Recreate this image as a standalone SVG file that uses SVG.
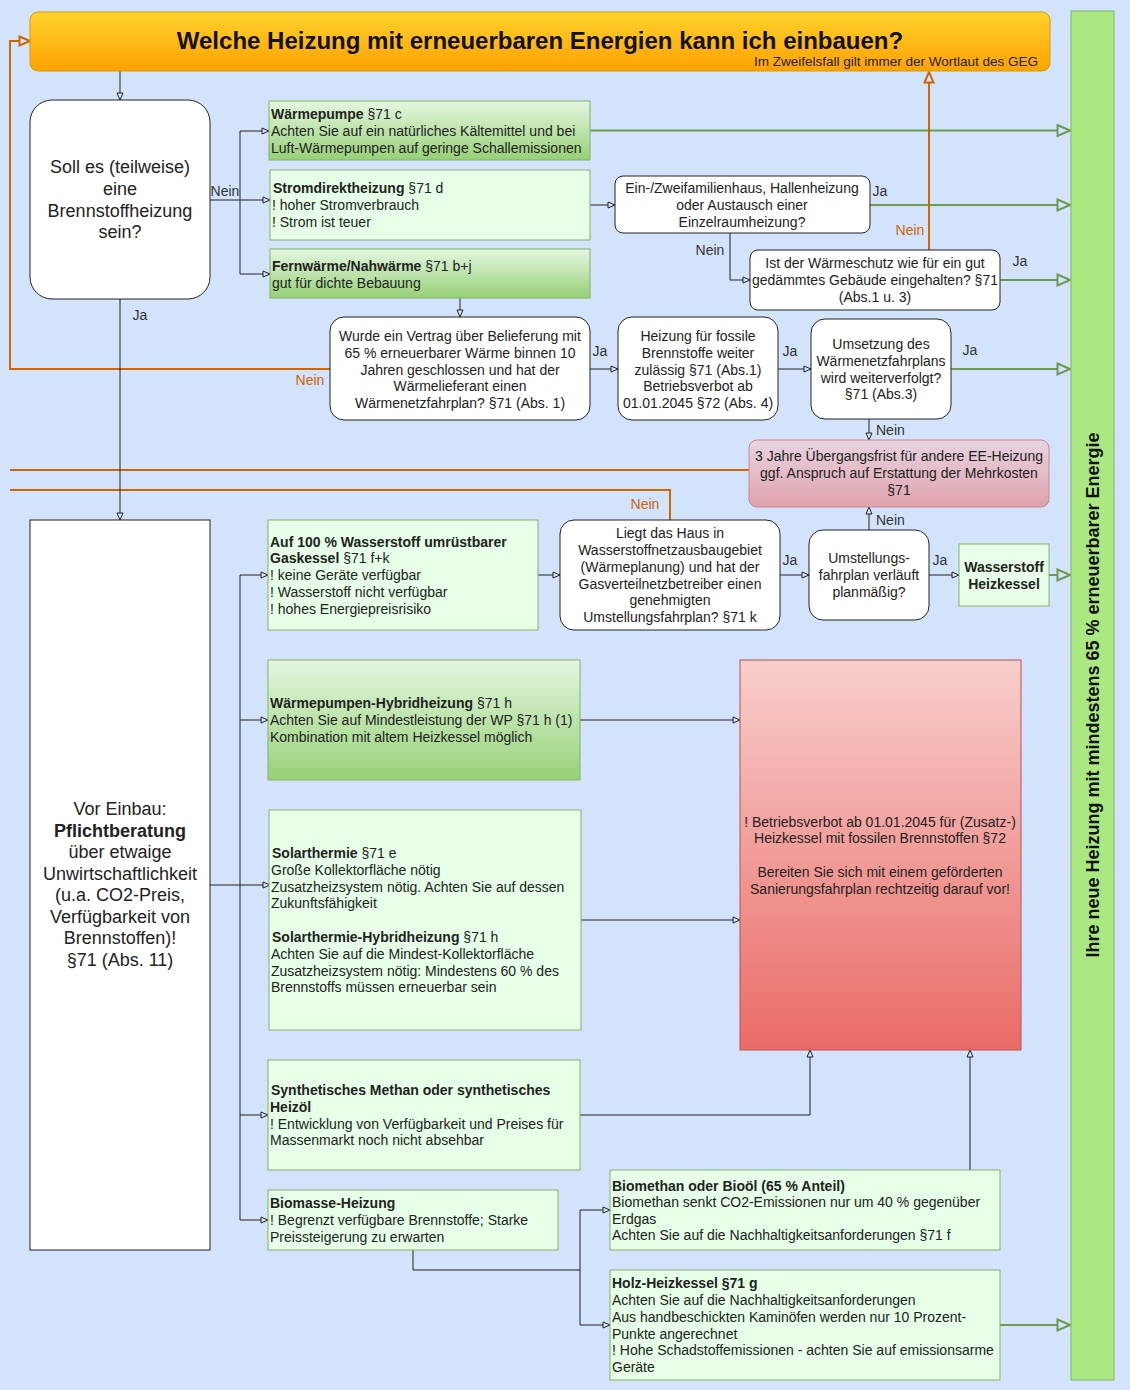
<svg xmlns="http://www.w3.org/2000/svg" width="1130" height="1390" viewBox="0 0 1130 1390">
<defs>
<linearGradient id="gTitle" x1="0" y1="0" x2="0" y2="1"><stop offset="0" stop-color="#ffd22e"/><stop offset="1" stop-color="#ffa200"/></linearGradient>
<linearGradient id="gGreen" x1="0" y1="0" x2="0" y2="1"><stop offset="0" stop-color="#e4f7e0"/><stop offset="1" stop-color="#97d077"/></linearGradient>
<linearGradient id="gPink" x1="0" y1="0" x2="0" y2="1"><stop offset="0" stop-color="#e8d4e0"/><stop offset="1" stop-color="#dfa2ac"/></linearGradient>
<linearGradient id="gRed" x1="0" y1="0" x2="0" y2="1"><stop offset="0" stop-color="#f8cecc"/><stop offset="1" stop-color="#ea6b66"/></linearGradient>
<marker id="ab" markerWidth="10" markerHeight="10" refX="8" refY="4" orient="auto" markerUnits="userSpaceOnUse"><path d="M1,1 L8,4 L1,7 Z" fill="#d4e3fc" stroke="#222" stroke-width="1"/></marker>
<marker id="ag" markerWidth="16" markerHeight="16" refX="14" refY="7" orient="auto" markerUnits="userSpaceOnUse"><path d="M1.5,1.5 L14,7 L1.5,12.5 Z" fill="#d4e3fc" stroke="#6d9a50" stroke-width="2"/></marker>
<marker id="ao" markerWidth="14" markerHeight="14" refX="12" refY="6" orient="auto" markerUnits="userSpaceOnUse"><path d="M1.5,1.5 L12,6 L1.5,10.5 Z" fill="#d4e3fc" stroke="#cc6600" stroke-width="2"/></marker>
</defs>
<style>
text{font-family:"Liberation Sans",Arial,sans-serif;fill:#222;}
.t13{font-size:14px;}
.t17{font-size:18px;}
.c{text-anchor:middle;}
.b{font-weight:bold;}
.lbl{font-size:14px;fill:#333;}
.olbl{font-size:14px;fill:#cc6600;}
.dec{fill:#fff;stroke:#222;stroke-width:1;}
.lg{fill:#e6ffe6;stroke:#82b366;stroke-width:1;}
.gg{fill:url(#gGreen);stroke:#82b366;stroke-width:1;}
.k{fill:none;stroke:#222;stroke-width:1;}
.ka{fill:none;stroke:#222;stroke-width:1;marker-end:url(#ab);}
.ga{fill:none;stroke:#6d9a50;stroke-width:2;marker-end:url(#ag);}
.o{fill:none;stroke:#cc6600;stroke-width:2;}
.oa{fill:none;stroke:#cc6600;stroke-width:2;marker-end:url(#ao);}
</style>
<rect x="0" y="0" width="1130" height="1390" fill="#d4e3fc"/>

<g id="connectors">
<path class="ka" d="M120,71 V100"/>
<path class="ka" d="M210,200 H240 V131 H269"/>
<path class="ka" d="M240,200 H270"/>
<path class="ka" d="M240,200 V274 H270"/>
<path class="ga" d="M590,130.5 H1070"/>
<path class="ka" d="M590,205 H615"/>
<path class="ga" d="M870,205 H1070"/>
<path class="ka" d="M730,233 V280 H750"/>
<path class="ga" d="M1000,280 H1070"/>
<path class="oa" d="M929,250 V72"/>
<path class="ka" d="M460,298 V317"/>
<path class="ka" d="M590,369 H618"/>
<path class="ka" d="M778,369 H811"/>
<path class="ga" d="M951,369 H1070"/>
<path class="ka" d="M869,419 V440"/>
<path class="oa" d="M330,369 H10 V41 H30"/>
<path class="o" d="M749,470 H10"/>
<path class="o" d="M670,520 V490 H10"/>
<path class="ka" d="M120,299 V520"/>
<path class="ka" d="M210,885 H270"/>
<path class="k" d="M240,575 V1220"/>
<path class="ka" d="M240,575 H268"/>
<path class="ka" d="M240,720 H268"/>
<path class="ka" d="M240,1115 H268"/>
<path class="ka" d="M240,1220 H268"/>
<path class="ka" d="M538,575 H560"/>
<path class="ka" d="M780,575 H809"/>
<path class="ka" d="M929,575 H959"/>
<path class="ga" d="M1049,575 H1070"/>
<path class="ka" d="M869,530 V507"/>
<path class="ka" d="M580,720 H740"/>
<path class="ka" d="M581,920 H740"/>
<path class="ka" d="M580,1115 H810 V1050"/>
<path class="k" d="M413,1250 V1270 H580"/>
<path class="k" d="M580,1210 V1325"/>
<path class="ka" d="M580,1210 H610"/>
<path class="ka" d="M580,1325 H610"/>
<path class="ka" d="M970,1170 V1050"/>
<path class="ga" d="M1000,1325 H1070"/>
<text class="lbl c" x="225" y="196">Nein</text>
<text class="lbl c" x="140" y="320">Ja</text>
<text class="lbl c" x="880" y="196">Ja</text>
<text class="lbl c" x="710" y="255">Nein</text>
<text class="olbl c" x="910" y="235">Nein</text>
<text class="lbl c" x="1020" y="266">Ja</text>
<text class="lbl c" x="600" y="356">Ja</text>
<text class="lbl c" x="790" y="356">Ja</text>
<text class="lbl c" x="970" y="355">Ja</text>
<text class="lbl" x="876" y="435">Nein</text>
<text class="olbl c" x="310" y="385">Nein</text>
<text class="olbl c" x="645" y="509">Nein</text>
<text class="lbl c" x="790" y="565">Ja</text>
<text class="lbl c" x="940" y="565">Ja</text>
<text class="lbl" x="876" y="525">Nein</text>
</g>

<g id="title">
<rect x="30" y="12" width="1020" height="59" rx="8" fill="url(#gTitle)" stroke="#d79b00"/>
<text class="c b" x="540" y="49" style="font-size:24px;fill:#111">Welche Heizung mit erneuerbaren Energien kann ich einbauen?</text>
<text class="t13" x="1038" y="66" text-anchor="end" style="font-size:13.5px">Im Zweifelsfall gilt immer der Wortlaut des GEG</text>
</g>

<g id="result-bar">
<rect x="1071" y="11" width="43" height="1369" fill="#ace882" stroke="#82b366"/>
<text class="c b" x="1099" y="695" transform="rotate(-90 1099 695)" style="font-size:18px;fill:#111">Ihre neue Heizung mit mindestens 65 % erneuerbarer Energie</text>
</g>

<g id="soll">
<rect class="dec" x="30" y="100" width="180" height="199" rx="22"/>
<text class="t17 c"><tspan x="120" y="173">Soll es (teilweise)</tspan><tspan x="120" y="195">eine</tspan><tspan x="120" y="217">Brennstoffheizung</tspan><tspan x="120" y="238">sein?</tspan></text>
</g>

<g id="waermepumpe">
<rect class="gg" x="269" y="101" width="321" height="59"/>
<text class="t13"><tspan x="271" y="119"><tspan class="b">Wärmepumpe</tspan> §71 c</tspan><tspan x="271" y="136">Achten Sie auf ein natürliches Kältemittel und bei</tspan><tspan x="271" y="153">Luft-Wärmepumpen auf geringe Schallemissionen</tspan></text>
</g>

<g id="stromdirekt">
<rect class="lg" x="270" y="170" width="320" height="70"/>
<text class="t13"><tspan x="273" y="193"><tspan class="b">Stromdirektheizung</tspan> §71 d</tspan><tspan x="272" y="210">! hoher Stromverbrauch</tspan><tspan x="272" y="227">! Strom ist teuer</tspan></text>
</g>

<g id="fernwaerme">
<rect class="gg" x="270" y="249" width="320" height="49"/>
<text class="t13"><tspan x="272" y="271"><tspan class="b">Fernwärme/Nahwärme</tspan> §71 b+j</tspan><tspan x="272" y="288">gut für dichte Bebauung</tspan></text>
</g>

<g id="einzwei">
<rect class="dec" x="615" y="176" width="255" height="57" rx="8"/>
<text class="t13 c"><tspan x="742" y="193">Ein-/Zweifamilienhaus, Hallenheizung</tspan><tspan x="742" y="210">oder Austausch einer</tspan><tspan x="742" y="227">Einzelraumheizung?</tspan></text>
</g>

<g id="waermeschutz">
<rect class="dec" x="750" y="250" width="250" height="60" rx="8"/>
<text class="t13 c"><tspan x="875" y="268">Ist der Wärmeschutz wie für ein gut</tspan><tspan x="875" y="285">gedämmtes Gebäude eingehalten? §71</tspan><tspan x="875" y="302">(Abs.1 u. 3)</tspan></text>
</g>

<g id="vertrag">
<rect class="dec" x="330" y="317" width="260" height="103" rx="14"/>
<text class="t13 c"><tspan x="460" y="341">Wurde ein Vertrag über Belieferung mit</tspan><tspan x="460" y="358">65 % erneuerbarer Wärme binnen 10</tspan><tspan x="460" y="374.5">Jahren geschlossen und hat der</tspan><tspan x="460" y="391">Wärmelieferant einen</tspan><tspan x="460" y="408">Wärmenetzfahrplan? §71 (Abs. 1)</tspan></text>
</g>

<g id="fossil">
<rect class="dec" x="618" y="317" width="160" height="103" rx="14"/>
<text class="t13 c"><tspan x="698" y="341">Heizung für fossile</tspan><tspan x="698" y="358">Brennstoffe weiter</tspan><tspan x="698" y="374.5">zulässig §71 (Abs.1)</tspan><tspan x="698" y="391">Betriebsverbot ab</tspan><tspan x="698" y="408">01.01.2045 §72 (Abs. 4)</tspan></text>
</g>

<g id="umsetzung">
<rect class="dec" x="811" y="319" width="140" height="100" rx="14"/>
<text class="t13 c"><tspan x="881" y="349">Umsetzung des</tspan><tspan x="881" y="366">Wärmenetzfahrplans</tspan><tspan x="881" y="383">wird weiterverfolgt?</tspan><tspan x="881" y="399">§71 (Abs.3)</tspan></text>
</g>

<g id="uebergang">
<rect x="749" y="440" width="300" height="67" rx="8" fill="url(#gPink)" stroke="#c98590"/>
<text class="t13 c"><tspan x="899" y="461">3 Jahre Übergangsfrist für andere EE-Heizung</tspan><tspan x="899" y="478">ggf. Anspruch auf Erstattung der Mehrkosten</tspan><tspan x="899" y="495">§71</tspan></text>
</g>

<g id="pflicht">
<rect class="dec" x="30" y="520" width="180" height="730"/>
<text class="t17 c"><tspan x="120" y="815">Vor Einbau:</tspan><tspan x="120" y="837" class="b">Pflichtberatung</tspan><tspan x="120" y="858">über etwaige</tspan><tspan x="120" y="880">Unwirtschaftlichkeit</tspan><tspan x="120" y="901">(u.a. CO2-Preis,</tspan><tspan x="120" y="923">Verfügbarkeit von</tspan><tspan x="120" y="944">Brennstoffen)!</tspan><tspan x="120" y="966">§71 (Abs. 11)</tspan></text>
</g>

<g id="gaskessel">
<rect class="lg" x="268" y="520" width="270" height="110"/>
<text class="t13"><tspan x="270" y="547" class="b">Auf 100 % Wasserstoff umrüstbarer</tspan><tspan x="270" y="563"><tspan class="b">Gaskessel</tspan> §71 f+k</tspan><tspan x="270" y="580">! keine Geräte verfügbar</tspan><tspan x="270" y="597">! Wasserstoff nicht verfügbar</tspan><tspan x="270" y="614">! hohes Energiepreisrisiko</tspan></text>
</g>

<g id="liegt">
<rect class="dec" x="560" y="520" width="220" height="110" rx="14"/>
<text class="t13 c"><tspan x="670" y="538">Liegt das Haus in</tspan><tspan x="670" y="555">Wasserstoffnetzausbaugebiet</tspan><tspan x="670" y="572">(Wärmeplanung) und hat der</tspan><tspan x="670" y="589">Gasverteilnetzbetreiber einen</tspan><tspan x="670" y="605">genehmigten</tspan><tspan x="670" y="622">Umstellungsfahrplan? §71 k</tspan></text>
</g>

<g id="umstellung">
<rect class="dec" x="809" y="530" width="120" height="90" rx="14"/>
<text class="t13 c"><tspan x="869" y="563">Umstellungs-</tspan><tspan x="869" y="580">fahrplan verläuft</tspan><tspan x="869" y="597">planmäßig?</tspan></text>
</g>

<g id="wasserstoff">
<rect class="lg" x="959" y="544" width="90" height="62"/>
<text class="t13 c b"><tspan x="1004" y="572">Wasserstoff</tspan><tspan x="1004" y="589">Heizkessel</tspan></text>
</g>

<g id="wp-hybrid">
<rect class="gg" x="268" y="660" width="312" height="120"/>
<text class="t13"><tspan x="270" y="708"><tspan class="b">Wärmepumpen-Hybridheizung</tspan> §71 h</tspan><tspan x="270" y="725">Achten Sie auf Mindestleistung der WP §71 h (1)</tspan><tspan x="270" y="742">Kombination mit altem Heizkessel möglich</tspan></text>
</g>

<g id="betriebsverbot">
<rect x="740" y="660" width="281" height="390" fill="url(#gRed)" stroke="#b85450"/>
<text class="t13 c"><tspan x="880" y="827">! Betriebsverbot ab 01.01.2045 für (Zusatz-)</tspan><tspan x="880" y="843">Heizkessel mit fossilen Brennstoffen §72</tspan><tspan x="880" y="877">Bereiten Sie sich mit einem geförderten</tspan><tspan x="880" y="894">Sanierungsfahrplan rechtzeitig darauf vor!</tspan></text>
</g>

<g id="solar">
<rect class="lg" x="269" y="810" width="312" height="220"/>
<text class="t13"><tspan x="272" y="858"><tspan class="b">Solarthermie</tspan> §71 e</tspan><tspan x="271" y="875">Große Kollektorfläche nötig</tspan><tspan x="271" y="892">Zusatzheizsystem nötig. Achten Sie auf dessen</tspan><tspan x="271" y="908">Zukunftsfähigkeit</tspan><tspan x="272" y="942"><tspan class="b">Solarthermie-Hybridheizung</tspan> §71 h</tspan><tspan x="271" y="959">Achten Sie auf die Mindest-Kollektorfläche</tspan><tspan x="271" y="976">Zusatzheizsystem nötig: Mindestens 60 % des</tspan><tspan x="271" y="992">Brennstoffs müssen erneuerbar sein</tspan></text>
</g>

<g id="synth">
<rect class="lg" x="268" y="1060" width="312" height="110"/>
<text class="t13"><tspan x="271" y="1095" class="b">Synthetisches Methan oder synthetisches</tspan><tspan x="270" y="1112" class="b">Heizöl</tspan><tspan x="270" y="1129">! Entwicklung von Verfügbarkeit und Preises für</tspan><tspan x="270" y="1145">Massenmarkt noch nicht absehbar</tspan></text>
</g>

<g id="biomasse">
<rect class="lg" x="268" y="1190" width="290" height="60"/>
<text class="t13"><tspan x="270" y="1208" class="b">Biomasse-Heizung</tspan><tspan x="270" y="1225">! Begrenzt verfügbare Brennstoffe; Starke</tspan><tspan x="270" y="1242">Preissteigerung zu erwarten</tspan></text>
</g>

<g id="biomethan">
<rect class="lg" x="610" y="1170" width="390" height="80"/>
<text class="t13"><tspan x="612" y="1191" class="b">Biomethan oder Bioöl (65 % Anteil)</tspan><tspan x="612" y="1207">Biomethan senkt CO2-Emissionen nur um 40 % gegenüber</tspan><tspan x="612" y="1224">Erdgas</tspan><tspan x="612" y="1240">Achten Sie auf die Nachhaltigkeitsanforderungen §71 f</tspan></text>
</g>

<g id="holz">
<rect class="lg" x="610" y="1270" width="390" height="110"/>
<text class="t13"><tspan x="612" y="1288" class="b">Holz-Heizkessel §71 g</tspan><tspan x="612" y="1305">Achten Sie auf die Nachhaltigkeitsanforderungen</tspan><tspan x="612" y="1322">Aus handbeschickten Kaminöfen werden nur 10 Prozent-</tspan><tspan x="612" y="1339">Punkte angerechnet</tspan><tspan x="612" y="1355">! Hohe Schadstoffemissionen - achten Sie auf emissionsarme</tspan><tspan x="612" y="1372">Geräte</tspan></text>
</g>
</svg>
